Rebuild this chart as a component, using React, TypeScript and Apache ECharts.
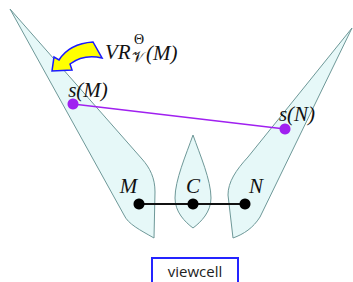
import React, { useEffect, useRef } from "react";
import * as echarts from "echarts";

const W = 353;
const H = 282;

// Outlines of the three visibility regions (M/L/C commands, diagram units)
const regionLeft: any[] = [
  ["M", 10, 9],
  ["L", 142, 159],
  ["C", 150, 168, 155, 178, 155, 192],
  ["L", 154, 238],
  ["C", 140, 230, 128, 224, 124, 215],
  ["Z"],
];
const regionCenter: any[] = [
  ["M", 193, 135],
  ["C", 186, 155, 175, 180, 175, 198],
  ["C", 175, 212, 185, 222, 193, 228],
  ["C", 201, 222, 211, 212, 211, 198],
  ["C", 211, 180, 200, 155, 193, 135],
  ["Z"],
];
const regionRight: any[] = [
  ["M", 352, 28],
  ["L", 260, 217],
  ["C", 253, 228, 244, 234, 233, 238],
  ["L", 228, 195],
  ["C", 228, 182, 236, 170, 248, 157],
  ["Z"],
];
const regions = [regionLeft, regionCenter, regionRight];

// Curved yellow arrow
const arrowOutline: any[] = [
  ["M", 52, 71],
  ["L", 54, 57],
  ["L", 59, 60],
  ["C", 66, 49, 78, 43, 93, 42],
  ["L", 102, 58],
  ["C", 89, 55, 78, 58, 70, 64],
  ["L", 72, 70],
  ["Z"],
];

// viewcell box corners
const viewcellBox = [152, 258, 238, 292];

// sample points
const samplePoints = [
  [73, 104],
  [285, 129],
];
// viewpoints M, C, N
const viewPoints = [
  [139, 204],
  [193, 204],
  [245, 204],
];

const labelTexts = ["M", "C", "N", "s(M)", "s(N)"];
const labelPos = [
  [128.5, 186],
  [193, 186],
  [256, 186],
  [88, 90],
  [297, 114],
];

function toPath(cmds: any[], api: any) {
  let d = "";
  for (const c of cmds) {
    const op = c[0];
    if (op === "Z") {
      d += "Z";
      continue;
    }
    d += op;
    for (let i = 1; i < c.length; i += 2) {
      const p = api.coord([c[i], c[i + 1]]);
      d += p[0].toFixed(2) + "," + p[1].toFixed(2) + " ";
    }
  }
  return d;
}

const SERIF = "'Liberation Serif', 'Times New Roman', 'DejaVu Serif', serif";

function txt(text: string, x: number, y: number, size: number, italic: boolean, align: string) {
  return {
    type: "text",
    x,
    y,
    z: 10,
    style: {
      text,
      fontFamily: SERIF,
      fontSize: size,
      fontStyle: italic ? "italic" : "normal",
      fill: "#111",
      align,
      verticalAlign: "middle",
    },
  };
}

export default function App() {
  const ref = useRef<HTMLDivElement>(null);
  useEffect(() => {
    document.body.style.margin = "0";
    const chart = echarts.init(ref.current!, undefined, { renderer: "svg" });
    const texts: any[] = labelTexts.map((t, i) => txt(t, labelPos[i][0], labelPos[i][1], 21, true, "center"));
    texts.push(
      txt("VR", 105, 52, 21, true, "left"),
      txt("Θ", 134, 39.5, 14, false, "left"),
      txt("𝒱", 132, 57, 15, false, "left"),
      txt("(M)", 146, 53, 21, true, "left")
    );
    chart.setOption({
      animation: false,
      grid: { left: 0, right: 0, top: 0, bottom: 0 },
      xAxis: { type: "value", min: 0, max: W, show: false },
      yAxis: { type: "value", min: 0, max: H, inverse: true, show: false },
      series: [
        {
          type: "custom",
          name: "regions",
          data: regions.map((_, i) => [i, 0]),
          silent: true,
          z: 1,
          renderItem: (params: any, api: any) => {
            const idx = api.value(0);
            return {
              type: "path",
              shape: { pathData: toPath(regions[idx], api) },
              style: { fill: "#e6f8f8", stroke: "#6e9898", lineWidth: 1 },
            };
          },
        },
        {
          type: "custom",
          name: "arrow",
          data: [[0, 0]],
          silent: true,
          z: 3,
          renderItem: (params: any, api: any) => ({
            type: "path",
            shape: { pathData: toPath(arrowOutline, api) },
            style: { fill: "#ffff00", stroke: "#1a1aff", lineWidth: 1.5, lineJoin: "miter" },
          }),
        },
        {
          type: "custom",
          name: "viewcell",
          data: [[0, 0]],
          silent: true,
          z: 3,
          renderItem: (params: any, api: any) => {
            const a = api.coord([viewcellBox[0], viewcellBox[1]]);
            const b = api.coord([viewcellBox[2], viewcellBox[3]]);
            return {
              type: "group",
              children: [
                {
                  type: "rect",
                  shape: { x: a[0], y: a[1], width: b[0] - a[0], height: b[1] - a[1] },
                  style: { fill: "#fff", stroke: "#2424ff", lineWidth: 2 },
                },
                {
                  type: "text",
                  x: (a[0] + b[0]) / 2,
                  y: a[1] + 13,
                  style: {
                    text: "viewcell",
                    fontFamily: "'Open Sans', 'DejaVu Sans', sans-serif",
                    fontSize: 15,
                    fill: "#222",
                    align: "center",
                    verticalAlign: "middle",
                  },
                },
              ],
            };
          },
        },
        {
          type: "line",
          name: "samples",
          data: samplePoints,
          symbol: "circle",
          symbolSize: 11,
          z: 5,
          lineStyle: { color: "#a020f0", width: 1.5 },
          itemStyle: { color: "#a020f0" },
          silent: true,
        },
        {
          type: "line",
          name: "viewpoints",
          data: viewPoints,
          symbol: "circle",
          symbolSize: 11,
          z: 5,
          lineStyle: { color: "#111", width: 1.8 },
          itemStyle: { color: "#000" },
          silent: true,
        },
      ],
      graphic: texts,
    });
    return () => chart.dispose();
  }, []);
  return <div ref={ref} style={{ position: "absolute", left: 0, top: 0, width: W, height: H }} />;
}
